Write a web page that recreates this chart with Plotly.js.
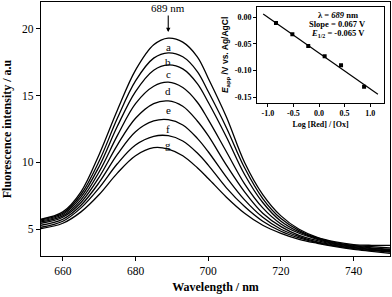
<!DOCTYPE html>
<html><head><meta charset="utf-8">
<script src="https://cdn.plot.ly/plotly-3.0.1.min.js"></script>
<style>html,body{margin:0;padding:0;background:#fff;}#chart{width:392px;height:297px;}</style>
</head><body><div id="chart"></div>
<script>
const wavelength = [654,660,665,670,675,680,685,689,693,697,700,705,710,715,720,725,730,735,740,745,750];
const curveA = [5.75,6.3,7.8,10.6,13.9,16.9,18.8,19.3,19.0,17.9,16.3,13.4,10.0,7.6,6.0,5.0,4.4,4.05,3.85,3.8,3.8];
const curveB = [5.7,6.2,7.6,10.1,13.3,16.1,17.8,18.2,17.9,16.8,15.3,12.6,9.6,7.3,5.8,4.9,4.35,4.0,3.8,3.7,3.6];
const curveC = [5.62,6.1,7.4,9.7,12.7,15.3,16.9,17.3,17.0,15.9,14.5,11.9,9.1,7.0,5.6,4.8,4.3,3.95,3.75,3.6,3.5];
const curveD = [5.55,6.0,7.2,9.3,12.0,14.4,15.7,16.0,15.6,14.5,13.2,10.8,8.4,6.6,5.4,4.7,4.25,3.9,3.7,3.55,3.45];
const curveE = [5.45,5.9,7.0,8.9,11.3,13.3,14.4,14.6,14.2,13.1,12.0,9.8,7.8,6.2,5.2,4.55,4.15,3.85,3.65,3.5,3.4];
const curveF = [5.3,5.75,6.8,8.5,10.6,12.3,13.1,13.2,12.8,11.8,10.8,8.9,7.2,5.9,5.0,4.45,4.05,3.8,3.6,3.45,3.35];
const curveG = [5.15,5.6,6.6,8.1,9.9,11.3,11.95,12.0,11.6,10.7,9.8,8.1,6.7,5.6,4.85,4.35,4.0,3.75,3.55,3.4,3.3];
const curveH = [5.05,5.45,6.3,7.6,9.2,10.5,11.1,11.0,10.5,9.6,8.8,7.4,6.2,5.3,4.7,4.25,3.95,3.7,3.5,3.35,3.2];
const curves = [curveA,curveB,curveC,curveD,curveE,curveF,curveG,curveH];
const curveLabels = ['a','b','c','d','e','f','g',''];
const labelWavelength = 689;
const peakLabel = '689 nm';

const mainXTicks = [660,680,700,720,740];
const mainYTicks = [5,10,15,20];

const logRatio = [-0.84,-0.52,-0.21,0.11,0.43,0.88];
const eApp = [-0.011,-0.032,-0.054,-0.073,-0.090,-0.130];
const fitX = [-1.09,1.15];
const fitY = [0.006,-0.144];
const insetXTicks = [-1.0,-0.5,0.0,0.5,1.0];
const insetXText = ['-1.0','-0.5','0.0','0.5','1.0'];
const insetYTicks = [0.00,-0.05,-0.10,-0.15];
const insetYText = ['0.00','-0.05','-0.10','-0.15'];
const insetLines = ['λ = <i>689</i> nm','Slope = 0.067 V','<i>E</i><sub>1/2</sub> = -0.065 V'];

const serif = 'Liberation Serif, Times New Roman, serif';
const traces = curves.map(c => ({
  x: wavelength, y: c, type:'scatter', mode:'lines',
  line:{color:'#000', width:1.3, shape:'spline', smoothing:1},
  xaxis:'x', yaxis:'y', hoverinfo:'skip'
}));
traces.push({x: fitX, y: fitY, type:'scatter', mode:'lines', line:{color:'#000', width:1.2}, xaxis:'x2', yaxis:'y2'});
traces.push({x: logRatio, y: eApp, type:'scatter', mode:'markers', marker:{color:'#000', size:4, symbol:'square'}, xaxis:'x2', yaxis:'y2'});

const annotations = [];
curves.forEach((c,i) => {
  if (!curveLabels[i]) return;
  const idx = wavelength.indexOf(labelWavelength);
  annotations.push({x: labelWavelength, y: c[idx], xref:'x', yref:'y', text: curveLabels[i], showarrow:false,
    yanchor:'top', yshift:-1, font:{family:serif, size:11, color:'#000'}});
});
annotations.push({x: labelWavelength, y: curveA[wavelength.indexOf(labelWavelength)] + 0.45, xref:'x', yref:'y', text: peakLabel,
  showarrow:true, arrowhead:2, arrowsize:0.8, arrowwidth:1.1, arrowcolor:'#000', ax:0, ay:-24,
  font:{family:serif, size:11, color:'#000'}});
insetLines.forEach((t,i) => {
  annotations.push({x: 0.851, y: 0.949 - i*0.036, xref:'paper', yref:'paper', text: t, showarrow:false,
    xanchor:'center', yanchor:'middle', font:{family:serif, size:8.5, color:'#000', weight:'bold'}});
});

const axisCommon = {showgrid:false, zeroline:false, showline:true, linecolor:'#000', mirror:true, ticks:'outside', tickcolor:'#000'};
const layout = {
  width:392, height:297, margin:{l:41, r:2, t:2, b:41},
  paper_bgcolor:'#fff', plot_bgcolor:'#fff', showlegend:false,
  xaxis: Object.assign({}, axisCommon, {range:[654,750], tickvals: mainXTicks, ticklen:4, linewidth:1.3,
    tickfont:{family:serif, size:11.5, color:'#000'},
    title:{text:'<b>Wavelength / nm</b>', font:{family:serif, size:12, color:'#000'}, standoff:6}}),
  yaxis: Object.assign({}, axisCommon, {range:[3,22], tickvals: mainYTicks, ticklen:4, linewidth:1.3,
    tickfont:{family:serif, size:11.5, color:'#000'},
    title:{text:'<b>Fluorescence intensity / a.u</b>', font:{family:serif, size:12, color:'#000'}, standoff:10}}),
  xaxis2: Object.assign({}, axisCommon, {domain:[0.619,0.983], anchor:'y2', range:[-1.21,1.27], tickvals: insetXTicks, ticktext: insetXText,
    ticklen:3, linewidth:1, tickfont:{family:serif, size:8, color:'#000', weight:'bold'},
    title:{text:'<b>Log [Red] / [Ox]</b>', font:{family:serif, size:8, color:'#000'}, standoff:4}}),
  yaxis2: Object.assign({}, axisCommon, {domain:[0.6035,0.980], anchor:'x2', range:[-0.160,0.019], tickvals: insetYTicks, ticktext: insetYText,
    ticklen:3, linewidth:1, tickfont:{family:serif, size:8, color:'#000', weight:'bold'},
    title:{text:'<b><i>E</i><sub>app</sub> /V vs. Ag/AgCl</b>', font:{family:'Liberation Sans, Arial, sans-serif', size:8.5, color:'#000'}, standoff:4}}),
  annotations: annotations
};
Plotly.newPlot('chart', traces, layout, {staticPlot:true, displayModeBar:false});
</script></body></html>
